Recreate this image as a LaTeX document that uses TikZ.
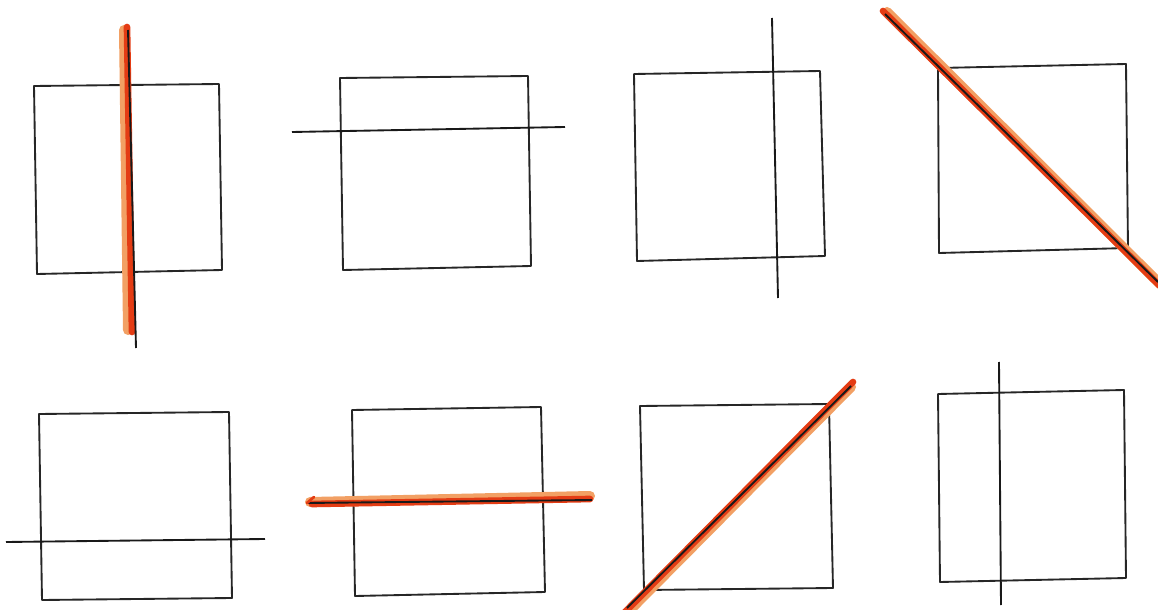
\documentclass[tikz,border=0pt]{standalone}
\begin{document}
\begin{tikzpicture}[x=0.75pt,y=-0.75pt,
  sq/.style={draw=black!85,line width=1.4pt,line join=round},
  pen/.style={draw=black!90,line width=1.4pt},
  orangeband/.style={draw={rgb,255:red,242;green,160;blue,100},line width=7.5pt,line cap=round},
  redband/.style={draw={rgb,255:red,228;green,60;blue,20},line width=5pt,line cap=round}]
\useasboundingbox[fill=white] (0,0) rectangle (1158,610);
% square 1
\draw[sq] (34,86) -- (219,84) -- (222,270) -- (37,274) -- cycle;
\draw[orangeband] (124,30) -- (128,330);
\draw[redband] (127,27) -- (132,332);
\draw[pen] (128,30) -- (136,348);
% square 2
\draw[sq] (340,78) -- (528,76) -- (531,266) -- (343,270) -- cycle;
\draw[pen] (292,132) -- (565,127);
% square 3
\draw[sq] (634,74) -- (820,71) -- (825,256) -- (637,261) -- cycle;
\draw[pen] (772,18) -- (778,298);
% square 4
\draw[sq] (938,68) -- (1126,64) -- (1128,248) -- (939,253) -- cycle;
\draw[orangeband] (887,12) -- (1160,284);
\draw[redband] (883,11) -- (1160,286);
\draw[pen] (885,14) -- (1158,282);
% square 5
\draw[sq] (39,414) -- (229,412) -- (232,598) -- (42,600) -- cycle;
\draw[pen] (6,542) -- (265,539);
% square 6
\draw[sq] (352,410) -- (541,407) -- (545,592) -- (355,596) -- cycle;
\draw[orangeband] (310,502) -- (590,496);
\draw[redband] (312,504) -- (590,499);
\draw[pen] (307,503) -- (592,500);
\draw[redband,line width=2pt] (307,503) -- (314,497);
% square 7
\draw[sq] (640,406) -- (829,404) -- (833,588) -- (644,590) -- cycle;
\draw[orangeband] (629,611) -- (851,387);
\draw[redband] (625,612) -- (853,382);
\draw[pen] (627,608) -- (851,386);
% square 8
\draw[sq] (938,394) -- (1124,390) -- (1126,578) -- (940,582) -- cycle;
\draw[pen] (999,362) -- (1001,605);
\end{tikzpicture}
\end{document}
